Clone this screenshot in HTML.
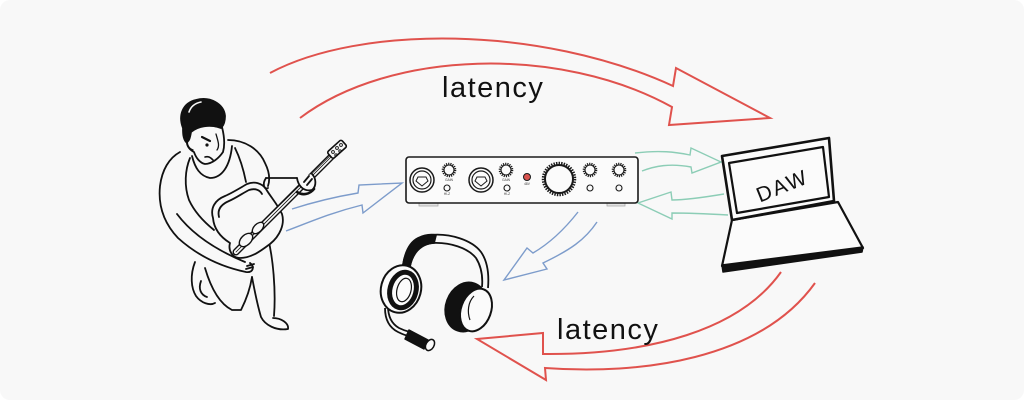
<!DOCTYPE html>
<html><head><meta charset="utf-8"><style>
html,body{margin:0;padding:0;background:#ffffff;}
#c{position:relative;width:1024px;height:400px;background:#f8f8f8;border-radius:10px;overflow:hidden;}
svg{position:absolute;left:0;top:0;}
.lat{font-family:"Liberation Sans",sans-serif;font-size:29px;letter-spacing:1.5px;fill:#111;}
</style></head><body><div id="c">
<svg width="1024" height="400" viewBox="0 0 1024 400" xmlns="http://www.w3.org/2000/svg">
<!-- red arrows -->
<g fill="none" stroke="#e0524d" stroke-width="2" stroke-linejoin="miter">
<path d="M270,73 C360,25 540,25 673,86 L676,68 L770,118 L669,125 L672,107 C560,45 390,50 300,118"/>
<path d="M815,283 C760,360 640,375 545,368 L546,380 L477,339 L543,333 L543,354 C650,355 740,330 781,272"/>
</g>
<text class="lat" x="442" y="97">latency</text>
<text class="lat" x="557" y="339">latency</text>
<!-- blue arrows -->
<g fill="none" stroke="#7d9ccb" stroke-width="1.4">
<path d="M292,209 C320,200 340,196 358,193 L359,185 L402,183 L363,213 L362,205 C330,213 310,222 286,231"/>
<path d="M578,212 C560,235 545,246 533,253 L527,248 L504,280 L547,269 L543,263 C570,250 585,240 597,222"/>
</g>
<!-- green arrows -->
<g fill="none" stroke="#8ccdb6" stroke-width="1.4">
<path d="M635,153 C660,150 675,152 690,155 L691,148 L721,162 L692,173 L691,167 C670,163 655,166 642,171"/>
<path d="M724,194 C700,198 685,200 672,200 L671,192 L638,203 L672,219 L672,213 C690,213 710,214 728,215"/>
</g>
<!-- audio interface -->
<g stroke="#1a1a1a" fill="none">
<rect x="419" y="203" width="19" height="3" fill="#e2e2e2" stroke="#aaa" stroke-width="0.8"/>
<rect x="607" y="203" width="18" height="3" fill="#e2e2e2" stroke="#aaa" stroke-width="0.8"/>
<rect x="406" y="157" width="232" height="46" rx="3" fill="#fbfbfb" stroke-width="1.6"/>
<circle cx="422" cy="180" r="12" stroke-width="1.5"/>
<circle cx="422" cy="180" r="9" stroke-width="1.2"/>
<path d="M418,177 L426,177 L428,181 L422,186 L416,181 Z" stroke-width="1"/>
<circle cx="481" cy="180" r="12" stroke-width="1.5"/>
<circle cx="481" cy="180" r="9" stroke-width="1.2"/>
<path d="M477,177 L485,177 L487,181 L481,186 L475,181 Z" stroke-width="1"/>
<g stroke-width="2.6" stroke-dasharray="1.1 1">
<circle cx="449" cy="170" r="6"/><circle cx="506" cy="170" r="6"/>
<circle cx="590" cy="170" r="6"/><circle cx="619" cy="170" r="6"/>
</g>
<g stroke-width="1.1">
<circle cx="449" cy="170" r="5"/><circle cx="506" cy="170" r="5"/>
<circle cx="590" cy="170" r="5"/><circle cx="619" cy="170" r="5"/>
<circle cx="447" cy="188" r="3"/><circle cx="507" cy="188" r="3"/>
<circle cx="590" cy="188" r="3"/><circle cx="619" cy="188" r="3"/>
</g>
<circle cx="559" cy="179" r="15.5" stroke-width="3.5" stroke-dasharray="1.4 1.1"/>
<circle cx="559" cy="179" r="14" stroke-width="2"/>
<circle cx="527" cy="177" r="3.5" fill="#d9534f" stroke-width="1"/>
</g>
<g font-family="Liberation Sans,sans-serif" font-size="3.2" fill="#333" text-anchor="middle">
<text x="449" y="181">GAIN</text><text x="506" y="181">GAIN</text>
<text x="447" y="195">HI-Z</text><text x="507" y="195">HI-Z</text>
<text x="527" y="185">48V</text>
</g>
<!-- laptop -->
<g stroke="#111" stroke-linejoin="round">
<path d="M732,220 L838,202 L863,248 L722,266 Z" fill="#fbfbfb" stroke-width="2.2"/>
<path d="M722,265 L863,247 L862,252 L723,272 Z" fill="#111" stroke-width="1.5"/>
<path d="M722,156 L829,138 L834,201 L732,220 Z" fill="#fbfbfb" stroke-width="2.6"/>
<path d="M729,163 L823,147 L829,197 L737,213 Z" fill="#fbfbfb" stroke-width="2.2"/>
</g>
<text x="782" y="193" transform="rotate(-22 782 185)" text-anchor="middle" font-family="Liberation Sans,sans-serif" font-size="21" letter-spacing="2" fill="#111">DAW</text>
<!-- headphones -->
<g stroke="#111" stroke-width="1.8" fill="none" stroke-linejoin="round">
<path d="M403,265 C405,252 410,242 418,238 C424,235 430,234 436,235 L434,243 C428,243 423,245 418,249 C414,254 411,260 410,266 Z" fill="#111"/>
<path d="M403,265 C405,250 413,238 430,235 C450,233 472,240 481,252 C488,262 489,276 488,288"/>
<path d="M410,266 C413,253 420,245 432,243 C450,242 468,248 476,258 C481,266 483,276 482,287"/>
<path d="M385,308 C385,320 390,328 398,332 C402,334 406,336 410,336"/>
<path d="M388,306 C388,317 392,324 399,328 C403,330 406,331 410,332"/>
<ellipse cx="401" cy="289" rx="20" ry="24" transform="rotate(15 401 289)" fill="#fbfbfb" stroke-width="2"/>
<ellipse cx="403" cy="290" rx="13" ry="18" transform="rotate(15 403 290)" stroke-width="5"/>
<ellipse cx="404" cy="290" rx="7" ry="12" transform="rotate(15 404 290)" fill="#fbfbfb" stroke-width="1.2"/>
<ellipse cx="466" cy="307" rx="20" ry="25" transform="rotate(20 466 307)" fill="#111" stroke-width="2"/>
<ellipse cx="476" cy="310" rx="15" ry="22" transform="rotate(20 476 310)" fill="#fbfbfb" stroke-width="2"/>
<path d="M470,320 C467,312 468,302 474,296" stroke-width="1.2"/>
<path d="M409,330 L428,340 L424,349 L405,339 Z" fill="#111" stroke-width="1.5"/>
<ellipse cx="430" cy="345" rx="4" ry="6" transform="rotate(30 430 345)" fill="#fbfbfb" stroke-width="1.5"/>
</g>
<!-- guitarist -->
<g stroke="#111" stroke-width="1.8" fill="none" stroke-linecap="round" stroke-linejoin="round">
<!-- legs -->
<path d="M195,262 C190,275 191,288 196,296 C201,303 210,306 215,303"/>
<path d="M201,281 C198,289 201,295 207,297"/>
<path d="M205,268 C210,285 218,303 232,310 L241,310 C246,300 250,290 252,277"/>
<path d="M252,277 C255,293 258,307 261,317 C265,325 276,331 288,329 C289,323 281,318 273,318"/>
<path d="M268,238 C273,258 276,290 274,316"/>
<!-- torso / left arm -->
<path d="M180,152 C169,158 162,170 160,186 C158,205 163,222 178,238 C198,256 222,267 246,272 C253,273 255,267 250,263" fill="#f8f8f8"/>
<path d="M177,214 C192,234 216,250 245,262"/>
<path d="M247,266 L254,264 M246,269 L253,267"/>
<path d="M190,158 C185,170 184,186 189,200 C195,213 204,222 214,230"/>
<path d="M228,140 C245,140 259,149 265,163 C270,173 270,180 268,186"/>
<path d="M235,148 C241,160 244,172 246,182"/>
<path d="M192,156 C195,168 200,176 210,178 C222,178 230,166 232,146"/>
<!-- right arm -->
<path d="M266,178 L297,178"/>
<!-- guitar body -->
<path d="M213,218 C210,208 215,200 225,196 C232,193 240,188 247,184 C254,181 262,183 266,189 C270,196 278,205 282,214 C285,224 280,236 270,244 C262,250 252,258 240,258 C232,258 228,250 230,243 C222,238 214,230 213,218 Z" fill="#f8f8f8"/>
<path d="M219,217 C217,209 222,204 229,201 C236,198 243,193 249,190 C255,188 260,190 262,194"/>
<!-- neck -->
<line x1="236" y1="252" x2="336" y2="152" stroke-width="7"/>
<line x1="236" y1="252" x2="336" y2="152" stroke="#f8f8f8" stroke-width="4.2"/>
<line x1="236" y1="252" x2="336" y2="152" stroke-width="0.8"/>
<line x1="234" y1="250" x2="336" y2="150" stroke-width="0.6"/>
<ellipse cx="246" cy="240" rx="5" ry="8" transform="rotate(45 246 240)" fill="#f8f8f8" stroke-width="1.4"/>
<ellipse cx="258" cy="228" rx="4" ry="7" transform="rotate(45 258 228)" fill="#f8f8f8" stroke-width="1.4"/>
<!-- headstock -->
<rect x="328" y="145" width="19" height="9" rx="2" transform="rotate(-42 337 150)" fill="#f8f8f8" stroke-width="1.6"/>
<g stroke-width="0.9"><circle cx="333" cy="152" r="1.4"/><circle cx="337" cy="148" r="1.4"/><circle cx="341" cy="145" r="1.4"/><circle cx="336" cy="155" r="1.2"/><circle cx="340" cy="151" r="1.2"/></g>
<!-- hand on neck -->
<path d="M297,178 C298,185 303,192 312,190 C317,186 316,178 312,174" fill="#f8f8f8"/>
<path d="M297,192 C303,196 310,194 314,189" stroke-width="2.6"/>
<path d="M304,182 L309,176 M307,185 L312,179"/>
<path d="M266,178 C262,184 264,190 268,188"/>
<!-- head -->
<path d="M187,140 C186,146 190,150 194,152 C196,158 200,163 205,164 C212,164 219,158 223,152 C225,145 224,135 222,127" fill="#f8f8f8"/>
<path d="M183,128 C178,115 183,103 196,100 C210,96 224,104 225,116 C225,122 223,126 221,128 C210,124 198,126 191,132 C190,138 189,142 186,142 C183,138 183,133 183,128 Z" fill="#111"/>
<path d="M189,112 C191,106 196,103 201,102" stroke="#f8f8f8" stroke-width="1.6"/>
<path d="M188,140 C186,144 189,149 193,150" stroke-width="1.4"/>
<path d="M202,137 L210,141" stroke-width="2.2"/>
<circle cx="207" cy="145" r="1.6" fill="#111" stroke="none"/>
<path d="M216,134 C218,141 220,146 217,150" stroke-width="1.3"/>
<path d="M205,157 C208,156 210,157 213,160" stroke-width="1.6"/>
</g>
</svg>
</div></body></html>
